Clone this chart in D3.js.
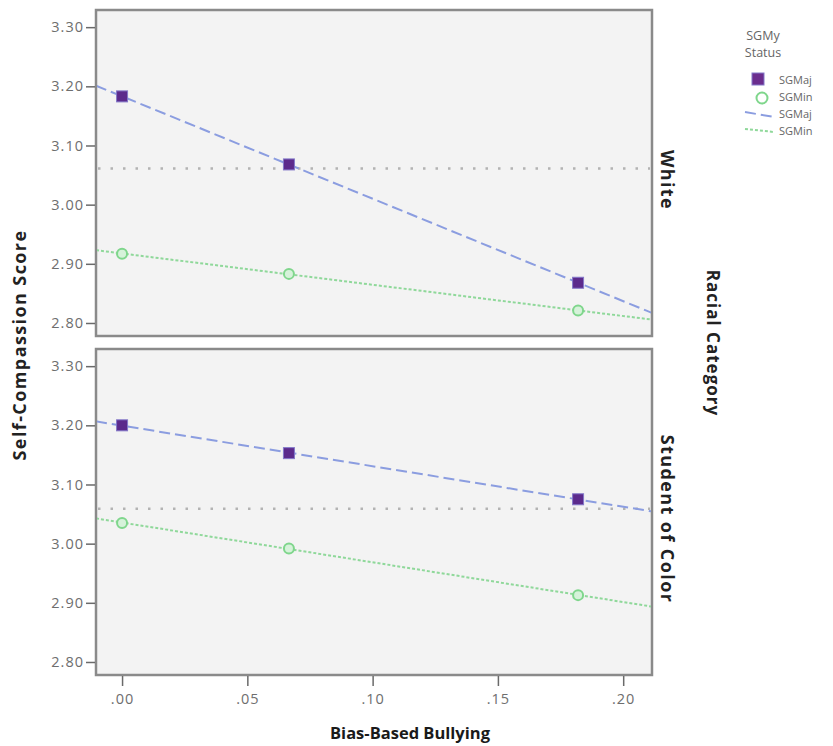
<!DOCTYPE html>
<html>
<head>
<meta charset="utf-8">
<script src="https://d3js.org/d3.v7.min.js"></script>
<style>
  body { margin: 0; background: #fff; }
  text { font-family: "Open Sans", "DejaVu Sans", sans-serif; }
</style>
</head>
<body>
<div id="chart"></div>
<script>

// values
const panels = ["White", "Student of Color"];
const groups = ["SGMaj", "SGMin"];
const bullying = [0.000, 0.0666, 0.182];
const whiteMaj = [3.183, 3.068, 2.868];
const whiteMin = [2.917, 2.883, 2.821];
const colorMaj = [3.200, 3.153, 3.075];
const colorMin = [3.035, 2.992, 2.913];
const meanLine = [3.061, 3.059];
const yTicks = [2.80, 2.90, 3.00, 3.10, 3.20, 3.30];
const xTicks = [0.00, 0.05, 0.10, 0.15, 0.20];

const series = [
  [whiteMaj, whiteMin],
  [colorMaj, colorMin]
];

const width = 833, height = 746;
const left = 96, right = 652;
const panelTop = [10, 349], panelH = 326;

const svg = d3.select("#chart").append("svg")
    .attr("width", width)
    .attr("height", height);

const x = d3.scaleLinear().domain([-0.0104, 0.2115]).range([left, right]);
const y = d3.scaleLinear().domain([2.778, 3.329]).range([panelH, 0]);

// simple least squares fit for the fit lines
function fit(xs, ys) {
  const mx = d3.mean(xs), my = d3.mean(ys);
  const sxy = d3.sum(xs, (v, i) => (v - mx) * (ys[i] - my));
  const sxx = d3.sum(xs, v => (v - mx) * (v - mx));
  const b = sxy / sxx;
  return v => my + b * (v - mx);
}

const majColor = "#5b2a8c", majLine = "#8b9de0";
const minColor = "#7fd68c", minLine = "#8fd89a";

panels.forEach(function(name, p) {
  const g = svg.append("g").attr("transform", `translate(0,${panelTop[p]})`);

  g.append("rect")
      .attr("x", left).attr("y", 0)
      .attr("width", right - left).attr("height", panelH)
      .attr("fill", "#f3f3f3")
      .attr("stroke", "#8a8a8a")
      .attr("stroke-width", 2.5);

  // y axis
  const yAxis = g.append("g")
      .attr("transform", `translate(${left - 1},0)`)
      .call(d3.axisLeft(y).tickValues(yTicks).tickFormat(d3.format(".2f")).tickSize(9).tickPadding(2).tickSizeOuter(0));
  yAxis.select(".domain").remove();
  yAxis.selectAll("line").attr("stroke", "#6a6a6a").attr("stroke-width", 1.5);
  yAxis.selectAll("text").attr("fill", "#6e6e6e").style("font-size", "14.5px").style("letter-spacing", "1px");

  // mean reference line
  g.append("line")
      .attr("x1", left + 2).attr("x2", right - 2)
      .attr("y1", y(meanLine[p])).attr("y2", y(meanLine[p]))
      .attr("stroke", "#b3b3b3")
      .attr("stroke-width", 2.5)
      .attr("stroke-dasharray", "2.5,10");

  const clip = "clip" + p;
  g.append("clipPath").attr("id", clip).append("rect")
      .attr("x", left + 1).attr("y", 1)
      .attr("width", right - left - 2).attr("height", panelH - 2);

  // fit lines
  series[p].forEach(function(vals, k) {
    const f = fit(bullying, vals);
    const dom = x.domain();
    g.append("path")
        .attr("clip-path", `url(#${clip})`)
        .attr("d", d3.line().x(d => x(d)).y(d => y(f(d)))(dom))
        .attr("fill", "none")
        .attr("stroke", k === 0 ? majLine : minLine)
        .attr("stroke-width", 2)
        .attr("stroke-dasharray", k === 0 ? "11,5" : "3,2");
  });

  // markers
  g.append("g").selectAll("rect")
    .data(series[p][0])
    .join("rect")
      .attr("x", (d, i) => x(bullying[i]) - 5.5)
      .attr("y", d => y(d) - 5.5)
      .attr("width", 11).attr("height", 11)
      .attr("fill", majColor)
      .attr("stroke", "#8378c9")
      .attr("stroke-width", 1);

  g.append("g").selectAll("circle")
    .data(series[p][1])
    .join("circle")
      .attr("cx", (d, i) => x(bullying[i]))
      .attr("cy", d => y(d))
      .attr("r", 5)
      .attr("fill", "#d6f2da")
      .attr("stroke", minColor)
      .attr("stroke-width", 2);

  // panel label
  g.append("text")
      .attr("transform", `translate(${right + 9},${panelH / 2 + 7}) rotate(90)`)
      .attr("text-anchor", "middle")
      .style("font-size", "18px")
      .style("font-weight", "bold")
      .style("letter-spacing", "1.4px")
      .attr("fill", "#222")
      .text(name);
});

// x axis
const xAxis = svg.append("g")
    .attr("transform", `translate(0,${panelTop[1] + panelH + 1})`)
    .call(d3.axisBottom(x).tickValues(xTicks).tickFormat(d => d3.format(".2f")(d).replace(/^0/, "")).tickSize(10).tickPadding(8).tickSizeOuter(0));
xAxis.select(".domain").remove();
xAxis.selectAll("line").attr("stroke", "#6a6a6a").attr("stroke-width", 1.5);
xAxis.selectAll("text").attr("fill", "#6e6e6e").style("font-size", "14.5px").style("letter-spacing", "1px");

// axis titles
svg.append("text")
    .attr("x", 410).attr("y", 739)
    .attr("text-anchor", "middle")
    .style("font-size", "16.5px").style("font-weight", "bold")
    .attr("fill", "#1a1a1a")
    .text("Bias-Based Bullying");

svg.append("text")
    .attr("transform", `translate(26,345) rotate(-90)`)
    .attr("text-anchor", "middle")
    .style("font-size", "18px").style("font-weight", "bold")
    .style("letter-spacing", "1.4px")
    .attr("fill", "#222")
    .text("Self-Compassion Score");

svg.append("text")
    .attr("transform", `translate(707,343) rotate(90)`)
    .attr("text-anchor", "middle")
    .style("font-size", "17px").style("font-weight", "bold")
    .style("letter-spacing", "1px")
    .attr("fill", "#222")
    .text("Racial Category");

// legend
const lg = svg.append("g");
lg.append("text").attr("x", 763).attr("y", 40).attr("text-anchor", "middle")
    .style("font-size", "12.5px").attr("fill", "#666").text("SGMy");
lg.append("text").attr("x", 763).attr("y", 57).attr("text-anchor", "middle")
    .style("font-size", "12.5px").attr("fill", "#666").text("Status");

lg.append("rect").attr("x", 752).attr("y", 73).attr("width", 12).attr("height", 12)
    .attr("fill", "#6b2d8e").attr("stroke", "#8378c9");
lg.append("circle").attr("cx", 762).attr("cy", 98).attr("r", 5.5)
    .attr("fill", "#fff").attr("stroke", minColor).attr("stroke-width", 2);
lg.append("line").attr("x1", 745).attr("x2", 774).attr("y1", 112).attr("y2", 117)
    .attr("stroke", majLine).attr("stroke-width", 2).attr("stroke-dasharray", "11,5");
lg.append("line").attr("x1", 745).attr("x2", 774).attr("y1", 129).attr("y2", 132)
    .attr("stroke", minLine).attr("stroke-width", 2).attr("stroke-dasharray", "3,2");

const labels = ["SGMaj", "SGMin", "SGMaj", "SGMin"];
lg.selectAll(".lab")
  .data(labels)
  .join("text")
    .attr("class", "lab")
    .attr("x", 779)
    .attr("y", (d, i) => 84 + i * 17)
    .style("font-size", "11px")
    .attr("fill", "#666")
    .text(d => d);

</script>
</body>
</html>
